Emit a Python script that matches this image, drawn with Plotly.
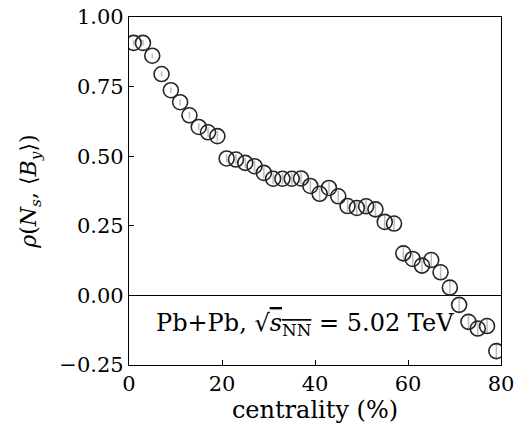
import plotly.graph_objects as go

centrality = [1, 3, 5, 7, 9, 11, 13, 15, 17, 19,
              21, 23, 25, 27, 29, 31, 33, 35, 37, 39,
              41, 43, 45, 47, 49, 51, 53, 55, 57, 59,
              61, 63, 65, 67, 69, 71, 73, 75, 77, 79]
rho = [0.907, 0.907, 0.861, 0.795, 0.737, 0.694, 0.647, 0.605, 0.586, 0.572,
       0.492, 0.488, 0.476, 0.464, 0.440, 0.419, 0.419, 0.419, 0.420, 0.393,
       0.365, 0.386, 0.356, 0.321, 0.314, 0.320, 0.309, 0.264, 0.258, 0.151,
       0.131, 0.107, 0.127, 0.083, 0.028, -0.034, -0.095, -0.119, -0.110, -0.200]
rho_err = [0.010, 0.010, 0.008, 0.010, 0.010, 0.012, 0.012, 0.014, 0.018, 0.020,
           0.015, 0.018, 0.018, 0.020, 0.020, 0.020, 0.020, 0.022, 0.022, 0.022,
           0.022, 0.022, 0.022, 0.022, 0.024, 0.024, 0.024, 0.024, 0.024, 0.024,
           0.024, 0.024, 0.025, 0.025, 0.025, 0.025, 0.025, 0.025, 0.025, 0.025]

x_ticks = [0, 20, 40, 60, 80]
y_ticks = [-0.25, 0.0, 0.25, 0.5, 0.75, 1.0]

FONT = "DejaVu Serif, Liberation Serif, serif"

fig = go.Figure()
fig.add_trace(go.Scatter(
    x=centrality, y=rho, mode="markers",
    error_y=dict(type="data", array=rho_err, color="#bdbdbd", thickness=1.5, width=0),
    marker=dict(symbol="circle", size=15, color="rgba(255,255,255,0)",
                line=dict(color="#262626", width=1.6)),
    showlegend=False,
))

fig.add_annotation(
    x=37.8, y=-0.105, xref="x", yref="y", showarrow=False,
    text="Pb+Pb, √<span style='text-decoration:overline'><i>s</i><sub>NN</sub></span> = 5.02 TeV",
    font=dict(family=FONT, size=24, color="black"),
)

fig.update_layout(
    width=519, height=430,
    margin=dict(l=129, r=18, t=17, b=65, autoexpand=False),
    paper_bgcolor="white", plot_bgcolor="white",
    font=dict(family=FONT, color="black"),
    xaxis=dict(
        range=[0, 80], tickvals=x_ticks, ticks="inside", ticklen=5, tickwidth=1,
        tickcolor="black", showline=True, linecolor="black", linewidth=1.2, mirror=True,
        showgrid=False, zeroline=False, tickfont=dict(size=21, family=FONT), automargin=False,
        title=dict(text="centrality (%)", font=dict(size=24, family=FONT), standoff=4),
    ),
    yaxis=dict(
        range=[-0.25, 1.0], tickvals=y_ticks, tickformat=".2f", ticks="inside", ticklen=5,
        tickwidth=1, tickcolor="black", showline=True, linecolor="black", linewidth=1.2,
        mirror=True, showgrid=False, zeroline=True, zerolinecolor="black", zerolinewidth=1,
        tickfont=dict(size=21, family=FONT), automargin=False,
        title=dict(text="<i>ρ</i>(<i>N<sub>s</sub></i>, ⟨<i>B<sub>y</sub></i>⟩)",
                   font=dict(size=22, family=FONT), standoff=16),
    ),
)

fig.write_html("out.html", config={"displayModeBar": False},
               post_script="document.body.style.margin='0';")
